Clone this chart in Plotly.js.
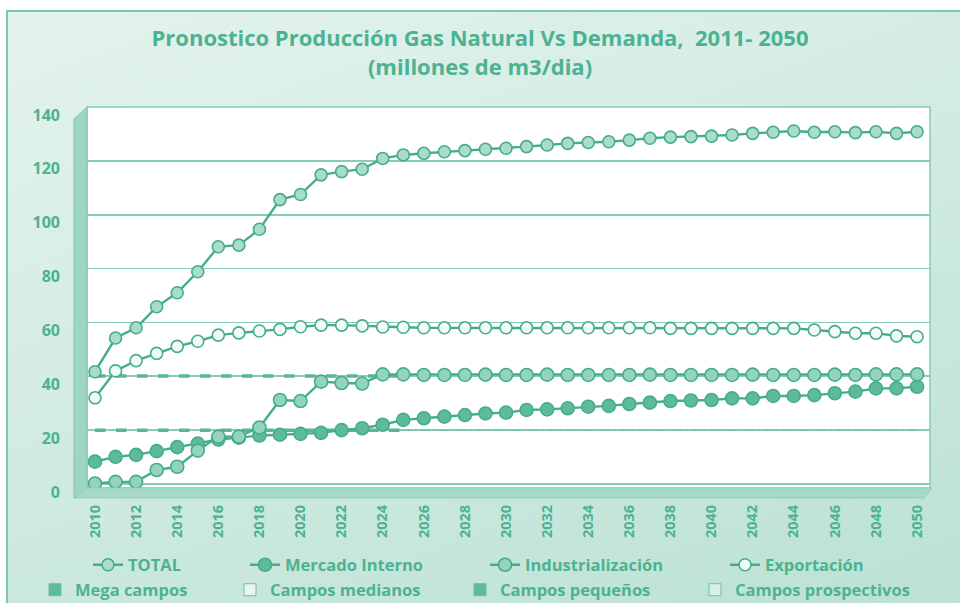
<!DOCTYPE html>
<html>
<head>
<meta charset="utf-8">
<script src="https://cdn.plot.ly/plotly-3.0.1.min.js"></script>
<style>
  html, body { margin: 0; padding: 0; background: #ffffff; }
  #wrap { position: relative; width: 960px; height: 603px; overflow: hidden; background: #ffffff; }
  #frame { position: absolute; left: 6px; top: 10px; width: 960px; height: 600px;
           border-left: 2px solid #7cc7af; border-top: 2px solid #7cc7af;
           background: linear-gradient(160deg, #e4f3ee 0%, #d2ebe3 45%, #bbe1d4 100%); }
  #chart { position: absolute; left: 0; top: 0; width: 960px; height: 603px; }
</style>
</head>
<body>
<div id="wrap"><div id="frame"></div><div id="chart"></div></div>
<script>
// ---------------- DATA ----------------
const years = [2010,2011,2012,2013,2014,2015,2016,2017,2018,2019,2020,2021,2022,2023,2024,2025,2026,2027,2028,2029,2030,2031,2032,2033,2034,2035,2036,2037,2038,2039,2040,2041,2042,2043,2044,2045,2046,2047,2048,2049,2050];
const tickYears = [2010,2012,2014,2016,2018,2020,2022,2024,2026,2028,2030,2032,2034,2036,2038,2040,2042,2044,2046,2048,2050];

const total = [41.7,54.2,58.0,65.8,71.0,78.8,88.1,88.7,94.6,105.6,107.5,114.8,116.0,116.9,120.9,122.2,122.8,123.4,123.8,124.3,124.7,125.3,125.9,126.5,126.8,127.1,127.7,128.4,128.8,129.0,129.2,129.6,130.2,130.6,131.1,130.6,130.8,130.5,130.8,130.2,130.8];
const mercadoInterno = [8.3,10.1,10.8,12.2,13.7,15.0,16.5,17.2,18.0,18.3,18.6,19.0,20.0,20.7,22.0,23.8,24.4,25.0,25.6,26.2,26.5,27.5,27.7,28.1,28.7,29.0,29.7,30.2,30.8,31.0,31.2,31.8,31.8,32.7,32.7,33.0,33.7,34.3,35.5,35.5,36.1];
const industrializacion = [0.2,0.8,0.8,5.2,6.4,12.4,17.6,17.6,21.0,31.2,30.8,38.0,37.5,37.3,40.7,40.7,40.5,40.5,40.5,40.6,40.5,40.5,40.6,40.5,40.5,40.5,40.5,40.6,40.5,40.5,40.5,40.5,40.6,40.5,40.5,40.5,40.6,40.5,40.7,40.7,40.7];
const exportacion = [32.0,42.0,45.8,48.5,51.1,53.0,55.3,56.1,56.8,57.4,58.4,59.0,59.0,58.7,58.3,58.2,58.0,58.0,58.0,58.0,58.0,58.0,58.0,58.0,58.0,58.0,58.0,58.0,57.8,57.8,57.8,57.8,57.8,57.8,57.8,57.2,56.6,56.0,56.0,55.0,54.7];
// dashed production reference lines
const produccionA = [40.1,40.1,40.1,40.1,40.1,40.1,40.1,40.1,40.1,40.1,40.1,40.1,40.1,40.1,40.1,40.1,40.1,40.1,40.1,40.1,40.1,40.1,40.1,40.1,40.1,40.1,40.1,40.1,40.1,40.1,40.1,40.1,40.1,40.1,40.1,40.1,40.1,40.1,40.1,40.1,40.1];
const produccionB = [20.0,20.0,20.0,20.0,20.0,20.0,20.0,20.0,20.0,20.0,20.0,20.0,20.0,20.0,20.0,20.0,20.0,20.0,20.0,20.0,20.0,20.0,20.0,20.0,20.0,20.0,20.0,20.0,20.0,20.0,20.0,20.0,20.0,20.0,20.0,20.0,20.0,20.0,20.0,20.0,20.0];
// bar series (not visible in the picture)
const megaCampos = [null];
const camposMedianos = [null];
const camposPequenos = [null];
const camposProspectivos = [null];

// ---------------- STYLE ----------------
const TEAL = '#4cb291';
const LINE = '#45ad8d';
const FONT = '"Open Sans", Lato, sans-serif';

// plot area in pixels
const PL = 87, PR = 930, PT = 107, PB = 488;
const px = v => (v - PL) / (PR - PL);
const py = v => (PB - v) / (PB - PT);

function lineTrace(name, y, fill, size, leg) {
  return {
    type: 'scatter', mode: 'lines+markers', name: name, x: years, y: y,
    line: { color: LINE, width: 2.4 },
    marker: { size: size, color: fill, line: { color: LINE, width: 1.6 } },
    legend: leg, showlegend: true
  };
}
function barTrace(name, y, color, leg) {
  return { type: 'bar', name: name, x: years.slice(0, y.length), y: y, showlegend: true,
           marker: { color: color, line: { color: '#6cbfa4', width: 1 } }, legend: leg };
}

const data = [
  { type: 'scatter', mode: 'lines', x: years.slice(0, 16), y: produccionA.slice(0, 16), showlegend: false,
    line: { color: '#58b696', width: 3.5, dash: 'dash' } },
  { type: 'scatter', mode: 'lines', x: years.slice(15), y: produccionA.slice(15), showlegend: false,
    line: { color: '#7cc7af', width: 1.2, dash: 'dash' } },
  { type: 'scatter', mode: 'lines', x: years.slice(0, 16), y: produccionB.slice(0, 16), showlegend: false,
    line: { color: '#58b696', width: 3.5, dash: 'dash' } },
  { type: 'scatter', mode: 'lines', x: years.slice(15), y: produccionB.slice(15), showlegend: false,
    line: { color: '#72c3a9', width: 1.5, dash: 'dashdot' } },
  lineTrace('Mercado Interno', mercadoInterno, '#5dbb9b', 13, 'legend2'),
  lineTrace('Industrialización', industrializacion, '#94d3be', 13, 'legend3'),
  lineTrace('Exportación', exportacion, '#f3fbf8', 12, 'legend4'),
  lineTrace('TOTAL', total, '#a9dccb', 12, 'legend'),
  barTrace('Mega campos', megaCampos, '#5dbb9b', 'legend5'),
  barTrace('Campos medianos', camposMedianos, '#e8f6f1', 'legend6'),
  barTrace('Campos pequeños', camposPequenos, '#5dbb9b', 'legend7'),
  barTrace('Campos prospectivos', camposProspectivos, '#d9f0e8', 'legend8')
];

function leg(xText, yCenter) {
  return { visible: true, x: px(xText - 40), y: py(yCenter), xanchor: 'left', yanchor: 'middle',
           orientation: 'h', bgcolor: 'rgba(0,0,0,0)', borderwidth: 0,
           font: { family: FONT, size: 16.5, color: TEAL, weight: 'bold' } };
}

const layout = {
  width: 960, height: 603,
  showlegend: true,
  margin: { l: PL, r: 960 - PR, t: PT, b: 603 - PB, pad: 0, autoexpand: false },
  paper_bgcolor: 'rgba(0,0,0,0)',
  plot_bgcolor: '#ffffff',
  font: { family: FONT, color: TEAL },
  title: {
    text: 'Pronostico Producción Gas Natural Vs Demanda,  2011- 2050<br>(millones de m3/dia)',
    font: { family: FONT, size: 22, color: TEAL, weight: 'bold' },
    x: 0.5, xanchor: 'center', xref: 'container',
    y: 1 - 46 / 603, yanchor: 'middle', yref: 'container'
  },
  xaxis: {
    range: [2009.61, 2050.63], tickmode: 'array', tickvals: tickYears,
    ticktext: tickYears.map(String), tickangle: -90, showgrid: false, zeroline: false,
    ticks: '', ticklabelstandoff: 13,
    tickfont: { family: FONT, size: 14.5, color: TEAL, weight: 'bold' }
  },
  yaxis: {
    range: [-1.49, 140], tickmode: 'array', tickvals: [0,20,40,60,80,100,120,140],
    showgrid: true, gridcolor: '#86ccb6', gridwidth: 1.6, zeroline: false,
    ticks: '', ticklabelstandoff: 26, ticklabelshift: 8,
    tickfont: { family: FONT, size: 16, color: TEAL, weight: 'bold' }
  },
  legend: leg(128, 565),
  legend2: leg(285, 565),
  legend3: leg(525, 565),
  legend4: leg(765, 565),
  legend5: leg(75, 590),
  legend6: leg(270, 590),
  legend7: leg(500, 590),
  legend8: leg(735, 590),
  shapes: [
    { type: 'path', xref: 'paper', yref: 'paper', layer: 'above',
      path: `M ${px(74)} ${py(119)} L ${px(87)} ${py(107)} L ${px(87)} ${py(488)} L ${px(74)} ${py(498)} Z`,
      fillcolor: '#9fd5c3', line: { color: '#7cc7af', width: 1 } },
    { type: 'path', xref: 'paper', yref: 'paper', layer: 'above',
      path: `M ${px(74)} ${py(498)} L ${px(87)} ${py(488)} L ${px(932)} ${py(488)} L ${px(924)} ${py(498)} Z`,
      fillcolor: '#a6d8c7', line: { color: '#8fcfba', width: 1 } },
    { type: 'rect', xref: 'paper', yref: 'paper', x0: 0, x1: 1, y0: 0, y1: 1,
      line: { color: '#86ccb6', width: 1.5 }, layer: 'below' }
  ]
};

Plotly.newPlot('chart', data, layout, { staticPlot: true, displayModeBar: false });
</script>
</body>
</html>
